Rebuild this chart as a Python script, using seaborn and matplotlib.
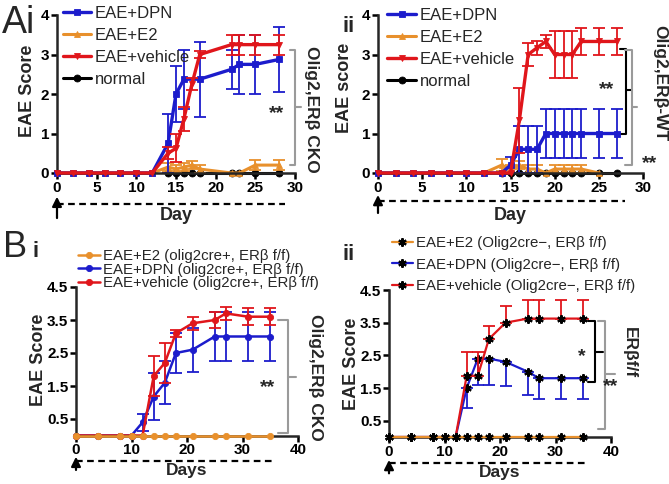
import numpy as np
import pandas as pd
import matplotlib
matplotlib.use('Agg')
import matplotlib.pyplot as plt
import matplotlib.transforms as mtransforms
from matplotlib import font_manager as fm
import seaborn as sns

# ---- panel Ai (Olig2, ERb CKO) ----
ai_days_dpn = [0, 2, 4, 6, 8, 10, 12, 14, 15, 16, 18, 22, 23, 25, 28]
ai_dpn = [0, 0, 0, 0, 0, 0, 0, 0.75, 2.0, 2.375, 2.375, 2.625, 2.75, 2.75, 2.875]
ai_dpn_err = [0, 0, 0, 0, 0, 0, 0, 0.75, 0.7, 0.75, 0.95, 0.5, 0.75, 0.75, 0.83]
ai_days_veh = [0, 2, 4, 6, 8, 10, 12, 14, 15, 16, 17, 18, 22, 23, 25, 28]
ai_veh = [0, 0, 0, 0, 0, 0, 0, 0.5, 0.625, 1.375, 2.25, 3.0, 3.25, 3.25, 3.25, 3.25]
ai_veh_err = [0, 0, 0, 0, 0, 0, 0, 0.15, 0.35, 0.3, 0.15, 0.1, 0.25, 0.25, 0.25, 0.25]
ai_days_e2 = [0, 2, 4, 6, 8, 10, 12, 14, 15, 16, 17, 18, 22, 23, 25, 28]
ai_e2 = [0, 0, 0, 0, 0, 0, 0, 0.15, 0.1, 0.15, 0.2, 0.1, 0, 0, 0.2, 0.2]
ai_e2_err = [0, 0, 0, 0, 0, 0, 0, 0.1, 0.1, 0.1, 0.1, 0.1, 0, 0, 0.12, 0.12]
ai_days_norm = [14, 15, 16, 17, 18, 22, 23, 25, 28]
ai_norm = [0, 0, 0, 0, 0, 0, 0, 0, 0]

# ---- panel Aii (Olig2, ERb-WT) ----
aii_days = [0, 2, 4, 6, 8, 10, 12, 14, 15, 16, 17, 18, 19, 20, 21, 22, 23, 25, 27]
aii_dpn = [0, 0, 0, 0, 0, 0, 0, 0, 0.2, 0.6, 0.6, 0.6, 1, 1, 1, 1, 1, 1, 1]
aii_dpn_err = [0, 0, 0, 0, 0, 0, 0, 0, 0.2, 0.6, 0.6, 0.6, 0.63, 0.63, 0.63, 0.63, 0.63, 0.63, 0.63]
aii_veh = [0, 0, 0, 0, 0, 0, 0, 0, 0, 1.33, 3.0, 3.17, 3.33, 3.0, 3.0, 3.0, 3.33, 3.33, 3.33]
aii_veh_err = [0, 0, 0, 0, 0, 0, 0, 0, 0, 0.83, 0.29, 0.17, 0.17, 0.6, 0.6, 0.6, 0.33, 0.33, 0.33]
aii_days_e2 = [0, 2, 4, 6, 8, 10, 12, 14, 15, 16, 17, 18, 19, 20, 21, 22, 23, 25]
aii_e2 = [0, 0, 0, 0, 0, 0, 0, 0.2, 0.1, 0.2, 0.1, 0.1, 0, 0.1, 0.1, 0.1, 0.1, 0]
aii_e2_err = [0, 0, 0, 0, 0, 0, 0, 0.15, 0.1, 0.1, 0.1, 0.1, 0, 0.1, 0.1, 0.1, 0.1, 0]
aii_days_norm = [14, 15, 16, 17, 18, 19, 20, 21, 22, 23, 25, 27]
aii_norm = [0, 0, 0, 0, 0, 0, 0, 0, 0, 0, 0, 0]

# ---- panels Bi / Bii ----
b_days = [0, 4, 8, 10, 12, 14, 16, 18, 21, 25, 27, 31, 35]
bi_e2 = [0, 0, 0, 0, 0, 0, 0, 0, 0, 0, 0, 0, 0]
bi_dpn = [0, 0, 0, 0, 0.4, 1.18, 1.6, 2.5, 2.6, 3.0, 3.0, 3.0, 3.0]
bi_dpn_err = [0, 0, 0, 0, 0.25, 0.7, 0.65, 0.6, 0.67, 0.75, 0.75, 0.75, 0.75]
bi_veh = [0, 0, 0, 0, 0, 1.8, 2.2, 3.1, 3.4, 3.5, 3.7, 3.6, 3.6]
bi_veh_err = [0, 0, 0, 0, 0, 0.6, 0.6, 0.1, 0.2, 0.25, 0.2, 0.25, 0.25]

bii_e2 = [0, 0, 0, 0, 0, 0, 0, 0, 0, 0, 0, 0, 0]
bii_dpn = [0, 0, 0, 0, 0, 1.5, 2.4, 2.4, 2.3, 2.0, 1.8, 1.8, 1.8]
bii_dpn_err_lo = [0, 0, 0, 0, 0, 0.6, 0.8, 0.8, 0.75, 0.7, 0.65, 0.65, 0.65]
bii_veh = [0, 0, 0, 0, 0, 1.875, 1.875, 3.0, 3.5, 3.625, 3.625, 3.625, 3.625]
bii_veh_err_hi = [0, 0, 0, 0, 0, 0.72, 0.72, 0.4, 0.5, 0.58, 0.58, 0.58, 0.58]

BLUE = '#1c1ccc'
RED = '#e0161b'
ORANGE = '#e8902c'
GRAY = '#9a9a9a'
ASTERISK = (6, 2, 0)

sns.set_theme(style='ticks')
plt.rcParams['font.family'] = ['Liberation Sans', 'DejaVu Sans']
plt.rcParams['axes.linewidth'] = 1.8

# regular-weight Liberation Sans (make sure the Narrow cut is not picked)
_reg = [f.fname for f in fm.fontManager.ttflist
        if f.name == 'Liberation Sans' and f.weight in (400, 'normal', 'regular')
        and f.style == 'normal' and 'narrow' not in f.fname.lower()]


def reg_font(size):
    if _reg:
        return fm.FontProperties(fname=_reg[0], size=size)
    return fm.FontProperties(family='Liberation Sans', size=size)


W, H = 669, 484
fig = plt.figure(figsize=(W / 100, H / 100), dpi=100)


def add_ax(left, right, bottom, top):
    return fig.add_axes([left / W, 1 - bottom / H, (right - left) / W, (bottom - top) / H])


def series(ax, x, y, color, marker, label, lw, ms, mcolor=None, lo=None, hi=None, z=2.0, mew=0.6):
    df = pd.DataFrame({'day': x, 'score': y})
    mc = mcolor or color
    sns.lineplot(data=df, x='day', y='score', ax=ax, color=color, marker=marker,
                 markersize=ms, linewidth=lw, markerfacecolor=mc, markeredgecolor=mc,
                 markeredgewidth=mew, label=label, clip_on=False, zorder=z)
    line = ax.lines[-1]
    if lo is not None or hi is not None:
        x = np.asarray(x, float)
        y = np.asarray(y, float)
        lo = np.zeros_like(y) if lo is None else np.asarray(lo, float)
        hi = np.zeros_like(y) if hi is None else np.asarray(hi, float)
        m = (lo > 0) | (hi > 0)
        ax.errorbar(x[m], y[m], yerr=[lo[m], hi[m]], fmt='none', ecolor=color,
                    elinewidth=1.3, capsize=4, capthick=1.3, zorder=z - 0.1, clip_on=False)
    return line


def style(ax, xlim, xticks, ylim, yticks, yticklabels):
    ax.set_xlim(xlim)
    ax.set_ylim(ylim)
    ax.set_xticks(xticks)
    ax.set_yticks(yticks)
    ax.set_xticklabels([str(t) for t in xticks], fontweight='bold')
    ax.set_yticklabels(yticklabels, fontweight='bold')
    sns.despine(ax=ax)
    ax.tick_params(width=1.8, length=4, labelsize=11, pad=1.5, colors='black')
    ax.set_facecolor('none')


def bracket(ax, x, ytop, ybot, arm, tick, ymid, color):
    ax.plot([x - arm, x, x, x - arm], [ytop, ytop, ybot, ybot], color=color, lw=1.5, clip_on=False)
    ax.plot([x, x + tick], [ymid, ymid], color=color, lw=1.5, clip_on=False)


def timeline(ax, xend, ydash, ytip, ytail):
    tr = mtransforms.blended_transform_factory(ax.transData, ax.transAxes)
    ax.plot([0, xend], [ydash, ydash], transform=tr, color='black', lw=1.6,
            ls=(0, (3, 2)), clip_on=False)
    ax.annotate('', xy=(0, ytip), xytext=(0, ytail), xycoords=tr, textcoords=tr,
                arrowprops=dict(arrowstyle='-|>', color='black', lw=1.6, mutation_scale=14,
                                shrinkA=0, shrinkB=0),
                annotation_clip=False)


def legend(ax, handles, labels, left, top, hl, sp, fs=12):
    ax.legend(handles=handles, labels=labels, loc='upper left',
              bbox_to_anchor=(left / W, 1 - top / H), bbox_transform=fig.transFigure,
              frameon=False, borderpad=0, borderaxespad=0, handlelength=hl,
              handletextpad=0.2, labelspacing=sp, prop=reg_font(fs))


# ================= Ai =================
ax = add_ax(57, 295, 173, 15)
h_norm = series(ax, ai_days_norm, ai_norm, 'black', 'o', 'normal', 2.2, 5, z=2.0)
h_e2 = series(ax, ai_days_e2, ai_e2, ORANGE, '^', 'EAE+E2', 2.2, 5, lo=ai_e2_err, hi=ai_e2_err, z=2.2)
h_dpn = series(ax, ai_days_dpn, ai_dpn, BLUE, 's', 'EAE+DPN', 2.4, 5, lo=ai_dpn_err, hi=ai_dpn_err, z=2.4)
h_veh = series(ax, ai_days_veh, ai_veh, RED, 'v', 'EAE+vehicle', 2.4, 5, lo=ai_veh_err, hi=ai_veh_err, z=2.6)
style(ax, (0, 30), [0, 5, 10, 15, 20, 25, 30], (0, 4), [0, 1, 2, 3, 4], ['0', '1', '2', '3', '4'])
legend(ax, [h_dpn, h_e2, h_veh, h_norm], ['EAE+DPN', 'EAE+E2', 'EAE+vehicle', 'normal'], 63, 6, 1.7, 0.42)
ax.set_xlabel('Day', fontsize=13, fontweight='bold')
ax.xaxis.set_label_coords(0.5, -0.215)
ax.set_ylabel('EAE Score', fontsize=13, fontweight='bold')
ax.yaxis.set_label_coords(-0.088, 0.52)
bracket(ax, 30.05, 3.11, 0.2, 0.65, 0.65, 1.67, GRAY)
ax.text(27.7, 1.5, '**', fontsize=14, fontweight='bold', ha='center', va='center')
ax.text(32.1, 1.6, 'Olig2,ERβ CKO', rotation=-90, fontsize=12.5, fontweight='bold',
        ha='center', va='center', clip_on=False)
timeline(ax, 28.7, -0.196, -0.15, -0.285)

# ================= Aii =================
ax = add_ax(378, 643, 173, 15)
h_norm = series(ax, aii_days_norm, aii_norm, 'black', 'o', 'normal', 2.2, 5, z=2.0)
h_e2 = series(ax, aii_days_e2, aii_e2, ORANGE, '^', 'EAE+E2', 2.2, 5, lo=aii_e2_err, hi=aii_e2_err, z=2.2)
h_dpn = series(ax, aii_days, aii_dpn, BLUE, 's', 'EAE+DPN', 2.4, 5, lo=aii_dpn_err, hi=aii_dpn_err, z=2.4)
h_veh = series(ax, aii_days, aii_veh, RED, 'v', 'EAE+vehicle', 2.4, 5, lo=aii_veh_err, hi=aii_veh_err, z=2.6)
style(ax, (0, 30), [0, 5, 10, 15, 20, 25, 30], (0, 4), [0, 1, 2, 3, 4], ['0', '1', '2', '3', '4'])
legend(ax, [h_dpn, h_e2, h_veh, h_norm], ['EAE+DPN', 'EAE+E2', 'EAE+vehicle', 'normal'], 387, 8, 1.75, 0.42)
ax.set_xlabel('Day', fontsize=13, fontweight='bold')
ax.xaxis.set_label_coords(0.5, -0.215)
ax.set_ylabel('EAE score', fontsize=13, fontweight='bold')
ax.yaxis.set_label_coords(-0.094, 0.54)
bracket(ax, 28.1, 3.15, 1.0, 0.7, 0.6, 2.1, 'black')
bracket(ax, 28.7, 3.12, 0.2, 0.7, 0.6, 1.66, GRAY)
ax.text(25.9, 2.1, '**', fontsize=14, fontweight='bold', ha='center', va='center')
ax.text(30.8, 0.25, '**', fontsize=14, fontweight='bold', ha='center', va='center', clip_on=False)
ax.text(31.9, 2.27, 'Olig2,ERβ-WT', rotation=-90, fontsize=12.5, fontweight='bold',
        ha='center', va='center', clip_on=False)
timeline(ax, 28.0, -0.18, -0.139, -0.253)

# ================= Bi =================
ax = add_ax(76, 298, 435.5, 287)
h_dpn = series(ax, b_days, bi_dpn, BLUE, 'o', 'dpn', 1.8, 4.5, lo=bi_dpn_err, hi=bi_dpn_err, z=2.2)
h_veh = series(ax, b_days, bi_veh, RED, 'o', 'veh', 1.8, 4.5, lo=bi_veh_err, hi=bi_veh_err, z=2.4)
h_e2 = series(ax, b_days, bi_e2, ORANGE, 'o', 'e2', 1.8, 4.5, z=2.6)
style(ax, (0, 40), [0, 10, 20, 30, 40], (0, 4.5), [0.5, 1.5, 2.5, 3.5, 4.5],
      ['0.5', '1.5', '2.5', '3.5', '4.5'])
legend(ax, [h_e2, h_dpn, h_veh],
       ['EAE+E2 (olig2cre+, ERβ f/f)', 'EAE+DPN (olig2cre+, ERβ f/f)',
        'EAE+vehicle (olig2cre+, ERβ f/f)'], 78, 249, 1.45, -0.02, fs=10.8)
ax.set_xlabel('Days', fontsize=12.5, fontweight='bold')
ax.xaxis.set_label_coords(0.5, -0.185)
ax.set_ylabel('EAE Score', fontsize=13, fontweight='bold')
ax.yaxis.set_label_coords(-0.13, 0.51)
bracket(ax, 38.2, 3.5, 0.07, 1.8, 1.5, 1.78, GRAY)
ax.text(34.6, 1.45, '**', fontsize=14, fontweight='bold', ha='center', va='center')
ax.text(43.1, 1.77, 'Olig2,ERβ CKO', rotation=-90, fontsize=12.5, fontweight='bold',
        ha='center', va='center', clip_on=False)
timeline(ax, 35.8, -0.17, -0.143, -0.232)

# ================= Bii =================
ax = add_ax(389, 611, 437, 290)
h_dpn = series(ax, b_days, bii_dpn, BLUE, ASTERISK, 'dpn', 1.6, 6, mcolor='black',
               lo=bii_dpn_err_lo, z=2.2, mew=1.5)
h_veh = series(ax, b_days, bii_veh, RED, ASTERISK, 'veh', 1.6, 6, mcolor='black',
               hi=bii_veh_err_hi, z=2.4, mew=1.5)
h_e2 = series(ax, b_days, bii_e2, ORANGE, ASTERISK, 'e2', 1.6, 6, mcolor='black', z=2.6, mew=1.5)
style(ax, (0, 40), [0, 10, 20, 30, 40], (0, 4.5), [0.5, 1.5, 2.5, 3.5, 4.5],
      ['0.5', '1.5', '2.5', '3.5', '4.5'])
legend(ax, [h_e2, h_dpn, h_veh],
       ['EAE+E2 (Olig2cre\u2212, ERβ f/f)', 'EAE+DPN (Olig2cre\u2212, ERβ f/f)',
        'EAE+vehicle (Olig2cre\u2212, ERβ f/f)'], 392, 236, 1.4, 0.5, fs=10.8)
ax.set_xlabel('Days', fontsize=12.5, fontweight='bold')
ax.xaxis.set_label_coords(0.5, -0.19)
ax.set_ylabel('EAE Score', fontsize=13, fontweight='bold')
ax.yaxis.set_label_coords(-0.13, 0.5)
bracket(ax, 37.1, 3.55, 1.67, 1.2, 1.5, 2.6, 'black')
bracket(ax, 38.9, 3.55, 0.25, 1.2, 1.8, 1.92, GRAY)
ax.text(34.7, 2.45, '*', fontsize=14, fontweight='bold', ha='center', va='center')
ax.text(39.9, 1.55, '**', fontsize=14, fontweight='bold', ha='center', va='center', clip_on=False)
ax.text(43.4, 2.6, 'ERβf/f', rotation=-90, fontsize=12.5, fontweight='bold',
        ha='center', va='center', clip_on=False)
timeline(ax, 35.8, -0.175, -0.156, -0.247)

# panel letters
fig.text(2 / W, 1 - 33 / H, 'Ai', fontproperties=reg_font(27), va='baseline')
fig.text(343 / W, 1 - 32 / H, 'ii', fontsize=16, fontweight='bold', va='baseline')
fig.text(3 / W, 1 - 257 / H, 'B', fontproperties=reg_font(26), va='baseline')
fig.text(33 / W, 1 - 257 / H, 'i', fontsize=16, fontweight='bold', va='baseline')
fig.text(342 / W, 1 - 260 / H, 'ii', fontsize=16, fontweight='bold', va='baseline')

fig.savefig('out.png', dpi=100)
